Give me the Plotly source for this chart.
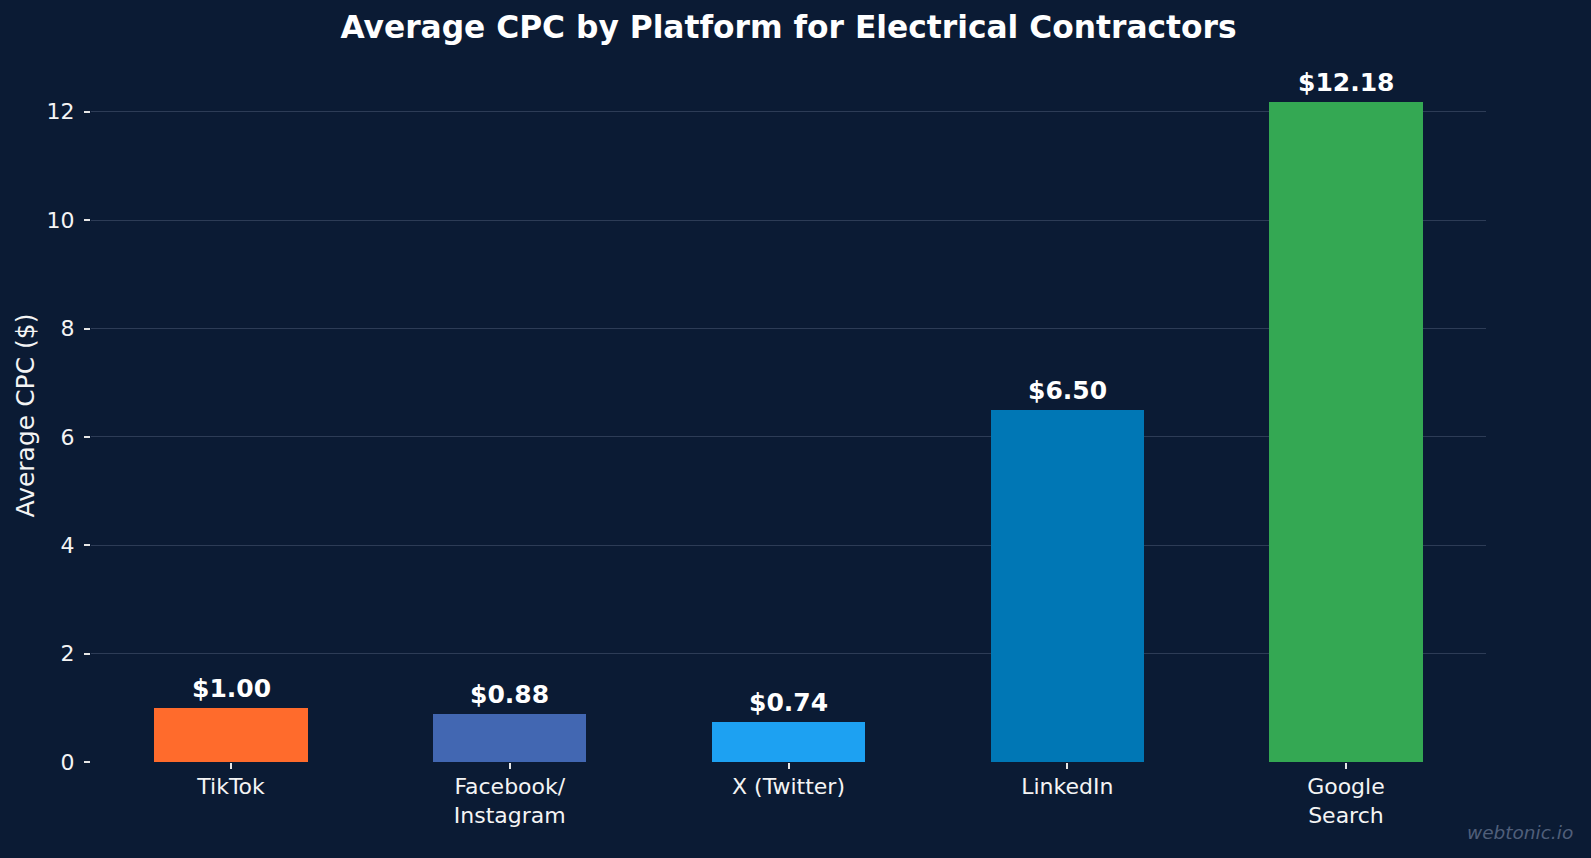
import plotly.graph_objects as go

platforms = ["TikTok", "Facebook/<br>Instagram", "X (Twitter)", "LinkedIn", "Google<br>Search"]
cpc = [1.00, 0.88, 0.74, 6.50, 12.18]
bar_colors = ["#FF6B2C", "#4267B2", "#1DA1F2", "#0077B5", "#34A853"]
labels = ["$%.2f" % v for v in cpc]
y_ticks = [0, 2, 4, 6, 8, 10, 12]

BG = "#0b1b34"
GRID = "#2d3c56"
FONT = "DejaVu Sans"

fig = go.Figure()
fig.add_trace(go.Bar(
    x=list(range(len(platforms))), y=cpc, width=0.55,
    marker=dict(color=bar_colors, line=dict(width=0)),
    hoverinfo="skip",
))

for i, (v, t) in enumerate(zip(cpc, labels)):
    fig.add_annotation(x=i, y=v, text="<b>%s</b>" % t, showarrow=False,
                       yanchor="middle", yshift=19.5,
                       font=dict(family=FONT, size=25, color="#ffffff"))

fig.add_annotation(xref="paper", yref="paper", x=1.0 + (1575 - 1486) / 1395, y=-(832 - 762) / 693,
                   xanchor="right", yanchor="middle", showarrow=False,
                   text="<i>webtonic.io</i>",
                   font=dict(family=FONT, size=18.5, color="#505f7a"))

fig.update_layout(
    width=1591, height=858,
    paper_bgcolor=BG, plot_bgcolor=BG,
    margin=dict(l=91, r=105, t=69, b=96),
    showlegend=False,
    font=dict(family=FONT, color="#ffffff"),
    title=dict(text="<b>Average CPC by Platform for Electrical Contractors</b>",
               x=0.5, xref="paper", y=1 - 27.5 / 858, yref="container",
               xanchor="center", yanchor="middle",
               font=dict(family=FONT, size=31.3, color="#ffffff")),
    bargap=0,
)

fig.update_xaxes(
    range=[-0.5025, 4.5025],
    tickmode="array", tickvals=list(range(len(platforms))), ticktext=platforms,
    ticks="outside", ticklen=6, tickwidth=1.5, tickcolor="#e6e6e6",
    ticklabelstandoff=-1,
    tickfont=dict(family=FONT, size=22, color="#f4f4f4"),
    showgrid=False, zeroline=False, showline=False,
)
fig.update_yaxes(
    range=[0, 12.789],
    tickmode="array", tickvals=y_ticks,
    ticks="outside", ticklen=6, tickwidth=1.5, tickcolor="#e6e6e6",
    ticklabelstandoff=5,
    tickfont=dict(family=FONT, size=22, color="#f4f4f4"),
    showgrid=True, gridcolor=GRID, gridwidth=1.3,
    zeroline=False, showline=False,
    title=dict(text="Average CPC ($)", font=dict(family=FONT, size=25, color="#f4f4f4"), standoff=4),
)

fig.write_html("out.html")
